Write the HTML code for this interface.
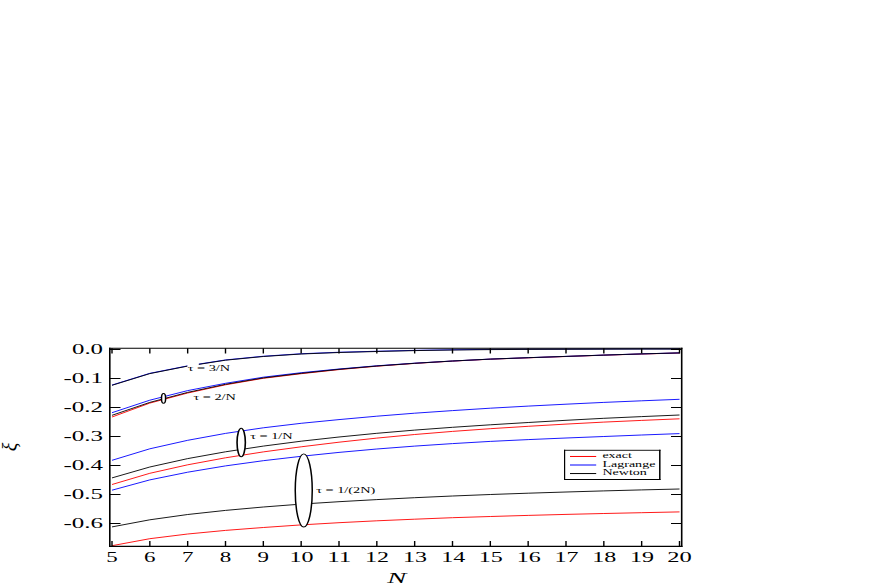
<!DOCTYPE html>
<html><head><meta charset="utf-8"><title>chart</title>
<style>
html,body{margin:0;padding:0;background:#fff;}
body{width:879px;height:586px;overflow:hidden;font-family:"Liberation Serif",serif;}
svg{display:block;position:absolute;left:0;top:0;}
text{font-family:"Liberation Serif",serif;fill:#000;}
</style></head><body>
<svg width="879" height="586" viewBox="0 0 879 586">
<rect width="879" height="586" fill="#fff"/>
<g stroke-linejoin="round">
<polyline points="112.0,385.05 149.8,373.35 187.7,365.85 225.5,359.95 263.3,356.25 301.2,353.75 339.0,352.25 376.8,351.25 414.7,350.35 452.5,349.75 490.3,349.35 528.2,349.15 566.0,349.05 603.8,348.95 641.7,348.85 679.5,348.85" fill="none" stroke="#0000ff" stroke-width="0.9"/>
<polyline points="112.0,545.70 149.8,538.70 187.7,534.00 225.5,530.40 263.3,527.50 301.2,524.90 339.0,522.70 376.8,520.80 414.7,519.20 452.5,517.70 490.3,516.50 528.2,515.40 566.0,514.40 603.8,513.50 641.7,512.70 679.5,511.90" fill="none" stroke="#ff0000" stroke-width="0.9"/>
<polyline points="112.0,484.50 149.8,473.30 187.7,464.80 225.5,457.80 263.3,451.90 301.2,446.80 339.0,442.20 376.8,438.10 414.7,434.50 452.5,431.40 490.3,428.70 528.2,426.30 566.0,424.10 603.8,422.10 641.7,420.40 679.5,418.80" fill="none" stroke="#ff0000" stroke-width="0.9"/>
<polyline points="112.0,417.00 149.8,403.10 187.7,393.00 225.5,384.80 263.3,378.30 301.2,373.70 339.0,369.60 376.8,366.20 414.7,363.40 452.5,361.10 490.3,359.20 528.2,357.80 566.0,356.50 603.8,355.20 641.7,354.00 679.5,353.00" fill="none" stroke="#ff0000" stroke-width="0.9"/>
<polyline points="112.0,490.20 149.8,479.90 187.7,472.20 225.5,465.90 263.3,460.70 301.2,456.30 339.0,452.40 376.8,449.00 414.7,446.10 452.5,443.60 490.3,441.40 528.2,439.60 566.0,438.00 603.8,436.50 641.7,435.00 679.5,433.60" fill="none" stroke="#0000ff" stroke-width="0.9"/>
<polyline points="112.0,460.30 149.8,448.80 187.7,440.30 225.5,433.40 263.3,427.80 301.2,423.30 339.0,419.60 376.8,416.20 414.7,413.20 452.5,410.60 490.3,408.20 528.2,406.10 566.0,404.20 603.8,402.40 641.7,400.80 679.5,399.30" fill="none" stroke="#0000ff" stroke-width="0.9"/>
<polyline points="112.0,412.70 149.8,400.20 187.7,390.60 225.5,383.30 263.3,377.20 301.2,372.70 339.0,369.00 376.8,365.80 414.7,363.20 452.5,361.00 490.3,359.10 528.2,357.70 566.0,356.40 603.8,355.10 641.7,353.90 679.5,352.90" fill="none" stroke="#0000ff" stroke-width="0.9"/>
<polyline points="112.0,526.90 149.8,519.80 187.7,514.50 225.5,510.40 263.3,507.00 301.2,504.10 339.0,501.70 376.8,499.60 414.7,497.70 452.5,496.00 490.3,494.50 528.2,493.20 566.0,492.00 603.8,490.90 641.7,489.90 679.5,489.00" fill="none" stroke="#000" stroke-width="0.9"/>
<polyline points="112.0,477.90 149.8,467.00 187.7,458.60 225.5,451.80 263.3,446.10 301.2,441.20 339.0,437.00 376.8,433.30 414.7,430.10 452.5,427.30 490.3,424.80 528.2,422.50 566.0,420.30 603.8,418.30 641.7,416.60 679.5,415.00" fill="none" stroke="#000" stroke-width="0.9"/>
<polyline points="112.0,415.30 149.8,402.40 187.7,392.40 225.5,384.30 263.3,377.90 301.2,373.30 339.0,369.30 376.8,366.00 414.7,363.30 452.5,361.00 490.3,359.10 528.2,357.70 566.0,356.40 603.8,355.10 641.7,353.90 679.5,352.90" fill="none" stroke="#000" stroke-width="0.9"/>
<polyline points="112.0,385.30 149.8,373.60 187.7,366.10 225.5,360.20 263.3,356.50 301.2,354.00 339.0,352.50 376.8,351.50 414.7,350.60 452.5,350.00 490.3,349.60 528.2,349.40 566.0,349.30 603.8,349.20 641.7,349.10 679.5,349.10" fill="none" stroke="#000" stroke-width="0.9"/>
</g>
<path d="M109.8 347.75V546.9499999999999M681.7 347.75V546.9499999999999" stroke="#000" stroke-width="1.6" fill="none"/>
<path d="M109.0 348.3H682.5M109.0 546.4H682.5" stroke="#000" stroke-width="1.1" fill="none"/>
<path d="M112.00 546.4v-5.3M112.00 348.3v5.3M149.83 546.4v-5.3M149.83 348.3v5.3M187.67 546.4v-5.3M187.67 348.3v5.3M225.50 546.4v-5.3M225.50 348.3v5.3M263.33 546.4v-5.3M263.33 348.3v5.3M301.16 546.4v-5.3M301.16 348.3v5.3M339.00 546.4v-5.3M339.00 348.3v5.3M376.83 546.4v-5.3M376.83 348.3v5.3M414.66 546.4v-5.3M414.66 348.3v5.3M452.50 546.4v-5.3M452.50 348.3v5.3M490.33 546.4v-5.3M490.33 348.3v5.3M528.16 546.4v-5.3M528.16 348.3v5.3M566.00 546.4v-5.3M566.00 348.3v5.3M603.83 546.4v-5.3M603.83 348.3v5.3M641.66 546.4v-5.3M641.66 348.3v5.3M679.50 546.4v-5.3M679.50 348.3v5.3" stroke="#000" stroke-width="1.4" fill="none"/>
<path d="M109.8 349.50h10.7M681.7 349.50h-10.7M109.8 378.50h10.7M681.7 378.50h-10.7M109.8 407.50h10.7M681.7 407.50h-10.7M109.8 436.50h10.7M681.7 436.50h-10.7M109.8 465.50h10.7M681.7 465.50h-10.7M109.8 494.50h10.7M681.7 494.50h-10.7M109.8 523.50h10.7M681.7 523.50h-10.7" stroke="#000" stroke-width="1.0" fill="none"/>
<g font-size="13.8" text-anchor="end">
<text x="103" y="354.1" textLength="31" lengthAdjust="spacingAndGlyphs">0.0</text>
<text x="103" y="383.1" textLength="39.5" lengthAdjust="spacingAndGlyphs">-0.1</text>
<text x="103" y="412.1" textLength="39.5" lengthAdjust="spacingAndGlyphs">-0.2</text>
<text x="103" y="441.1" textLength="39.5" lengthAdjust="spacingAndGlyphs">-0.3</text>
<text x="103" y="470.1" textLength="39.5" lengthAdjust="spacingAndGlyphs">-0.4</text>
<text x="103" y="499.1" textLength="39.5" lengthAdjust="spacingAndGlyphs">-0.5</text>
<text x="103" y="528.1" textLength="39.5" lengthAdjust="spacingAndGlyphs">-0.6</text>
</g>
<g font-size="13.8" text-anchor="middle">
<text x="112" y="562" textLength="11.5" lengthAdjust="spacingAndGlyphs">5</text>
<text x="149.8" y="562" textLength="11.5" lengthAdjust="spacingAndGlyphs">6</text>
<text x="187.7" y="562" textLength="11.5" lengthAdjust="spacingAndGlyphs">7</text>
<text x="225.5" y="562" textLength="11.5" lengthAdjust="spacingAndGlyphs">8</text>
<text x="263.3" y="562" textLength="11.5" lengthAdjust="spacingAndGlyphs">9</text>
<text x="301.6" y="562" textLength="24" lengthAdjust="spacingAndGlyphs">10</text>
<text x="339.3" y="562" textLength="24" lengthAdjust="spacingAndGlyphs">11</text>
<text x="377.1" y="562" textLength="24" lengthAdjust="spacingAndGlyphs">12</text>
<text x="415.1" y="562" textLength="24" lengthAdjust="spacingAndGlyphs">13</text>
<text x="453.2" y="562" textLength="24" lengthAdjust="spacingAndGlyphs">14</text>
<text x="490.8" y="562" textLength="24" lengthAdjust="spacingAndGlyphs">15</text>
<text x="528.8" y="562" textLength="24" lengthAdjust="spacingAndGlyphs">16</text>
<text x="566.6" y="562" textLength="24" lengthAdjust="spacingAndGlyphs">17</text>
<text x="604.3" y="562" textLength="24" lengthAdjust="spacingAndGlyphs">18</text>
<text x="642.1" y="562" textLength="24" lengthAdjust="spacingAndGlyphs">19</text>
<text x="679.5" y="562" textLength="24.5" lengthAdjust="spacingAndGlyphs">20</text>
</g>
<text x="396.7" y="582.8" font-size="13.8" font-style="italic" text-anchor="middle" textLength="19" lengthAdjust="spacingAndGlyphs">N</text>
<text transform="translate(17,447) rotate(-90)" font-size="20" font-style="italic" text-anchor="middle">ξ</text>

<rect x="187.4" y="360" width="11.4" height="9" fill="#fff"/>
<ellipse transform="translate(163.55,398.4) scale(1.500,1)" cx="0" cy="0" rx="1.367" ry="4.8" fill="#fff" stroke="#000" stroke-width="1.0"/>
<ellipse transform="translate(241.2,442.5) scale(1.600,1)" cx="0" cy="0" rx="2.594" ry="14.2" fill="#fff" stroke="#000" stroke-width="1.0"/>
<ellipse transform="translate(303.75,490.45) scale(1.579,1)" cx="0" cy="0" rx="5.383" ry="36.6" fill="#fff" stroke="#000" stroke-width="0.95"/>
<g font-size="7.8">
<text x="187.7" y="370.7" textLength="42.5" lengthAdjust="spacingAndGlyphs">τ = 3/N</text>
<text x="193.4" y="399.6" textLength="42.5" lengthAdjust="spacingAndGlyphs">τ = 2/N</text>
<text x="250.2" y="438.55" textLength="42.5" lengthAdjust="spacingAndGlyphs">τ = 1/N</text>
<text x="316.3" y="492.8" textLength="59" lengthAdjust="spacingAndGlyphs">τ = 1/(2N)</text>
</g>
<rect x="564.6" y="450.3" width="95.19999999999993" height="29.19999999999999" fill="#fff"/>
<path d="M564.6 449.85V480.0" stroke="#000" stroke-width="1.2" fill="none"/>
<path d="M659.8 449.85V480.0" stroke="#000" stroke-width="1.5" fill="none"/>
<path d="M564.0 450.3H660.55" stroke="#000" stroke-width="0.9" fill="none"/>
<path d="M564.0 479.5H660.55" stroke="#000" stroke-width="1.0" fill="none"/>
<path d="M570.0 456.48H596.2" stroke="#ff0000" stroke-width="1.0"/>
<text x="602.4" y="458.4" font-size="7.6" textLength="29.5" lengthAdjust="spacingAndGlyphs">exact</text>
<path d="M570.0 465.0H596.2" stroke="#0000ff" stroke-width="1.0"/>
<text x="602.4" y="466.9" font-size="7.6" textLength="53" lengthAdjust="spacingAndGlyphs">Lagrange</text>
<path d="M570.0 473.55H596.2" stroke="#000" stroke-width="1.0"/>
<text x="602.4" y="475.4" font-size="7.6" textLength="44.5" lengthAdjust="spacingAndGlyphs">Newton</text>
</svg></body></html>
